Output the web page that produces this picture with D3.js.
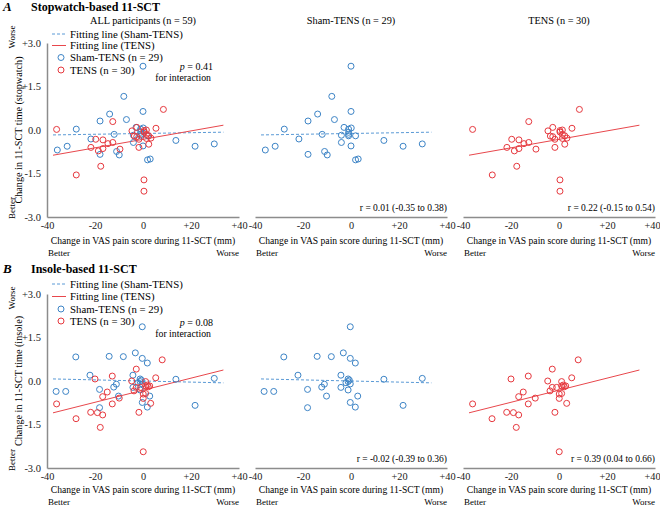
<!DOCTYPE html>
<html><head><meta charset="utf-8">
<script src="https://cdn.jsdelivr.net/npm/d3@7"></script>
<style>
body{margin:0;background:#fff;}
svg{display:block;font-family:"Liberation Serif","Times New Roman",serif;}
</style></head><body>
<svg id="chart" width="660" height="506"></svg>
<script>
// ---------- DATA ----------
const xTicks = [-40, -20, 0, 20, 40];
const xTickLabels = ["-40", "-20", "0", "+20", "+40"];
const yTicks = [3, 1.5, 0, -1.5, -3];
const yTickLabels = ["+3.0", "+1.5", "0.0", "-1.5", "-3.0"];
const columnTitles = ["ALL participants (n = 59)", "Sham-TENS (n = 29)", "TENS (n = 30)"];

// Stopwatch-based 11-SCT: [change in VAS, change in time]
const shamStopwatch = [
  [0, 2.2], [-8, 1.16], [0, 0.64], [-13.9, 0.55], [-17.9, 0.31], [-6.9, 0.36],
  [-27.8, 0.03], [-2.9, 0.09], [-1, 0.03], [0.1, 0.07], [-1, -0.08], [-1, -0.15],
  [-1, -0.2], [-4, -0.18], [1.9, -0.2], [-12, -0.15], [-21.7, -0.31], [-4, -0.43],
  [0, -0.55], [-35.7, -0.69], [-31.6, -0.56], [-17.9, -0.84], [-11, -0.74], [-9.9, -0.86],
  [1.9, -1.03], [3, -1.0], [13.7, -0.36], [21.7, -0.56], [29.7, -0.48]
];
const tensStopwatch = [
  [8.5, 0.71], [-12.6, 0.29], [-36, 0.02], [-2.6, 0.09], [-4.6, -0.03], [0.4, -0.02],
  [1.4, 0], [5.4, 0.06], [-3.6, -0.21], [-2.6, -0.23], [-1.7, -0.32], [1.4, -0.15],
  [2.4, -0.2], [1.4, -0.29], [3.3, -0.28], [2.4, -0.49], [-1.7, -0.6], [-19.7, -0.32],
  [-16.7, -0.34], [-14.6, -0.47], [-12.6, -0.43], [-21.7, -0.6], [-16.7, -0.64], [-18.6, -0.72],
  [-9.6, -0.66], [-17.6, -1.25], [-27.8, -1.55], [0.4, -1.72], [0.4, -2.11], [0.4, -0.07]
];
// Insole-based 11-SCT
const shamInsole = [
  [-0.3, 1.87], [-28, 0.83], [-14.1, 0.85], [-8.2, 0.84], [-3.2, 0.97], [-0.3, 0.78],
  [1.8, 0.62], [-22.1, 0.2], [-4.2, 0.2], [-1.2, 0.07], [-1.2, -0.02], [-0.3, -0.1],
  [13.7, 0.06], [29.7, 0.09], [-36.2, -0.36], [-32.2, -0.36], [-18.1, -0.29], [-12.2, -0.21],
  [-11.1, -0.11], [-4.2, -0.22], [-1.2, -0.31], [-10.2, -0.52], [2.8, -0.52], [-0.3, -0.74],
  [1.8, -0.9], [-18.1, -0.92], [21.7, -0.84], [-0.7, 0.03], [-2.1, -0.06]
];
const tensInsole = [
  [8, 0.73], [-2.8, 0.41], [-12.8, 0.17], [-20, 0.07], [5.3, 0.11], [-4.7, 0],
  [1.1, -0.02], [-2.8, -0.22], [-1, -0.22], [1.1, -0.17], [2.2, -0.2], [2.8, -0.17],
  [-3.75, -0.34], [1.1, -0.43], [0.1, -0.45], [0.1, -0.6], [3.2, -0.77], [-14.9, -0.38],
  [-16.8, -0.54], [-9.9, -0.59], [-12.8, -0.79], [-36, -0.79], [-21.8, -1.08], [-19, -1.09],
  [-16.8, -1.17], [-27.9, -1.3], [-17.8, -1.6], [-1.7, -1.08], [0.1, -2.44], [1.8, -0.14]
];
// Fitting lines: [intercept, slope]
const fitShamStopwatch = [-0.12, 0.00134];
const fitTensStopwatch = [-0.323, 0.01458];
const fitShamInsole = [0.0, -0.0019];
const fitTensInsole = [-0.318, 0.0208];
const fitRange = [-37.5, 33.5];

const rStopwatch = ["r = 0.01 (-0.35 to 0.38)", "r = 0.22 (-0.15 to 0.54)"];
const rInsole = ["r = -0.02 (-0.39 to 0.36)", "r = 0.39 (0.04 to 0.66)"];
const pStopwatch = "0.41";
const pInsole = "0.08";

// ---------- STYLE ----------
const BLUE = "#3d84c6", BLUE_LINE = "#5a9ad6", RED = "#e6383e", RED_LINE = "#e8474c", AXIS = "#8c8c8c";
const FONT = "Liberation Serif";
const svg = d3.select("#chart");
const cols = [[47, 239], [255, 447], [463, 655]];

function drawPanel(cfg) {
  const g = svg.append("g");
  const y = d3.scaleLinear().domain([-3, 3]).range(cfg.yRange);
  // panel label + title
  g.append("text").attr("x", 3).attr("y", cfg.titleY).attr("font-size", 13).attr("font-weight", "bold")
    .attr("font-style", "italic").text(cfg.letter);
  g.append("text").attr("x", 31).attr("y", cfg.titleY).attr("font-size", 12).attr("font-weight", "bold").text(cfg.title);

  // y axis titles
  const yMid = (cfg.yRange[0] + cfg.yRange[1]) / 2;
  g.append("text").attr("transform", `translate(21.5,${yMid}) rotate(-90)`).attr("text-anchor", "middle")
    .attr("font-size", 10.2).text(cfg.yTitle);
  g.append("text").attr("transform", `translate(15,${cfg.worseY}) rotate(-90)`).attr("text-anchor", "middle")
    .attr("font-size", 9).text("Worse");
  g.append("text").attr("transform", `translate(15,${cfg.betterY}) rotate(-90)`).attr("text-anchor", "middle")
    .attr("font-size", 9).text("Better");

  cols.forEach((c, ci) => {
    const x = d3.scaleLinear().domain([-40, 40]).range(c);
    const pg = g.append("g");
    // x axis
    const ax = pg.append("g").attr("transform", `translate(0,${cfg.yRange[0]})`)
      .call(d3.axisBottom(x).tickValues(xTicks).tickFormat((d, i) => xTickLabels[i]).tickSize(0).tickPadding(5));
    ax.select(".domain").attr("stroke", AXIS).attr("stroke-width", 1.5);
    ax.selectAll("text").attr("font-family", FONT).attr("font-size", 10.3).attr("fill", "#222");
    if (ci === cols.length - 1) {
      ax.selectAll(".tick").filter(d => d === 40).select("text").attr("dx", -3);
    }
    // y axis only on the first column
    if (ci === 0) {
      const ay = pg.append("g").attr("transform", `translate(${c[0]},0)`)
        .call(d3.axisLeft(y).tickValues(yTicks).tickFormat((d, i) => yTickLabels[i]).tickSize(0).tickPadding(6));
      ay.select(".domain").attr("stroke", AXIS).attr("stroke-width", 1.5);
      ay.selectAll("text").attr("font-family", FONT).attr("font-size", 10.5).attr("fill", "#222");
    }
    // x axis title + better/worse
    pg.append("text").attr("x", (c[0] + c[1]) / 2).attr("y", cfg.yRange[0] + cfg.xTitleOff).attr("text-anchor", "middle")
      .attr("font-size", 9.6).text("Change in VAS pain score during 11-SCT (mm)");
    pg.append("text").attr("x", c[0] + 1).attr("y", cfg.yRange[0] + cfg.bwOff).attr("font-size", 9).text("Better");
    pg.append("text").attr("x", c[1]).attr("y", cfg.yRange[0] + cfg.bwOff).attr("text-anchor", "end").attr("font-size", 9).text("Worse");
    if (cfg.showColTitles) {
      pg.append("text").attr("x", (c[0] + c[1]) / 2).attr("y", 23.5).attr("text-anchor", "middle")
        .attr("font-size", 10.3).text(columnTitles[ci]);
    }

    const line = d3.line().x(d => x(d[0])).y(d => y(d[1]));
    const fitPts = f => fitRange.map(v => [v, f[0] + f[1] * v]);
    const showSham = ci === 0 || ci === 1, showTens = ci === 0 || ci === 2;
    if (showSham) {
      pg.append("path").attr("d", line(fitPts(cfg.fitSham))).attr("fill", "none")
        .attr("stroke", BLUE_LINE).attr("stroke-width", 1).attr("stroke-dasharray", "3,2");
    }
    if (showTens) {
      pg.append("path").attr("d", line(fitPts(cfg.fitTens))).attr("fill", "none")
        .attr("stroke", RED_LINE).attr("stroke-width", 1);
    }
    if (showSham) {
      pg.append("g").selectAll("circle").data(cfg.sham).join("circle")
        .attr("cx", d => x(d[0])).attr("cy", d => y(d[1])).attr("r", 3)
        .attr("fill", "none").attr("stroke", BLUE).attr("stroke-width", 1);
    }
    if (showTens) {
      pg.append("g").selectAll("circle").data(cfg.tens).join("circle")
        .attr("cx", d => x(d[0])).attr("cy", d => y(d[1])).attr("r", 3)
        .attr("fill", "none").attr("stroke", RED).attr("stroke-width", 1);
    }
    if (ci > 0) {
      pg.append("text").attr("x", c[1]).attr("y", cfg.yRange[0] - 6).attr("text-anchor", "end")
        .attr("font-size", 9.5).text(cfg.rTexts[ci - 1]);
    }
    if (ci === 0) {
      // legend
      const L = cfg.legendY;
      const lg = pg.append("g");
      lg.append("line").attr("x1", 52).attr("x2", 66).attr("y1", L[0]).attr("y2", L[0])
        .attr("stroke", BLUE_LINE).attr("stroke-dasharray", "3,2");
      lg.append("line").attr("x1", 52).attr("x2", 66).attr("y1", L[1]).attr("y2", L[1]).attr("stroke", RED_LINE);
      lg.append("circle").attr("cx", 61).attr("cy", L[2]).attr("r", 3).attr("fill", "none").attr("stroke", BLUE);
      lg.append("circle").attr("cx", 61).attr("cy", L[3]).attr("r", 3).attr("fill", "none").attr("stroke", RED);
      const labels = ["Fitting line (Sham-TENS)", "Fitting line (TENS)", "Sham-TENS (n = 29)", "TENS (n = 30)"];
      labels.forEach((t, i) => lg.append("text").attr("x", 70).attr("y", L[i] + 3.5).attr("font-size", 10.8).text(t));
      // p-value
      const pt = pg.append("text").attr("x", 213).attr("y", cfg.pY).attr("text-anchor", "end").attr("font-size", 10);
      pt.append("tspan").attr("font-style", "italic").text("p");
      pt.append("tspan").text(" = " + cfg.p);
      pg.append("text").attr("x", 211).attr("y", cfg.pY + 11).attr("text-anchor", "end").attr("font-size", 9.8).text("for interaction");
    }
  });
}

drawPanel({
  letter: "A", title: "Stopwatch-based 11-SCT", titleY: 11, yRange: [217, 43],
  yTitle: "Change in 11-SCT time (stopwatch)", worseY: 37, betterY: 208, showColTitles: true,
  sham: shamStopwatch, tens: tensStopwatch, fitSham: fitShamStopwatch, fitTens: fitTensStopwatch,
  rTexts: rStopwatch, legendY: [34, 45.5, 57.5, 70], p: pStopwatch, pY: 70, xTitleOff: 26.5, bwOff: 38.5
});
drawPanel({
  letter: "B", title: "Insole-based 11-SCT", titleY: 273, yRange: [468, 294],
  yTitle: "Change in 11-SCT time (insole)", worseY: 298, betterY: 460, showColTitles: false,
  sham: shamInsole, tens: tensInsole, fitSham: fitShamInsole, fitTens: fitTensInsole,
  rTexts: rInsole, legendY: [284, 296.5, 309, 321], p: pInsole, pY: 326, xTitleOff: 25, bwOff: 37
});
</script></body></html>
